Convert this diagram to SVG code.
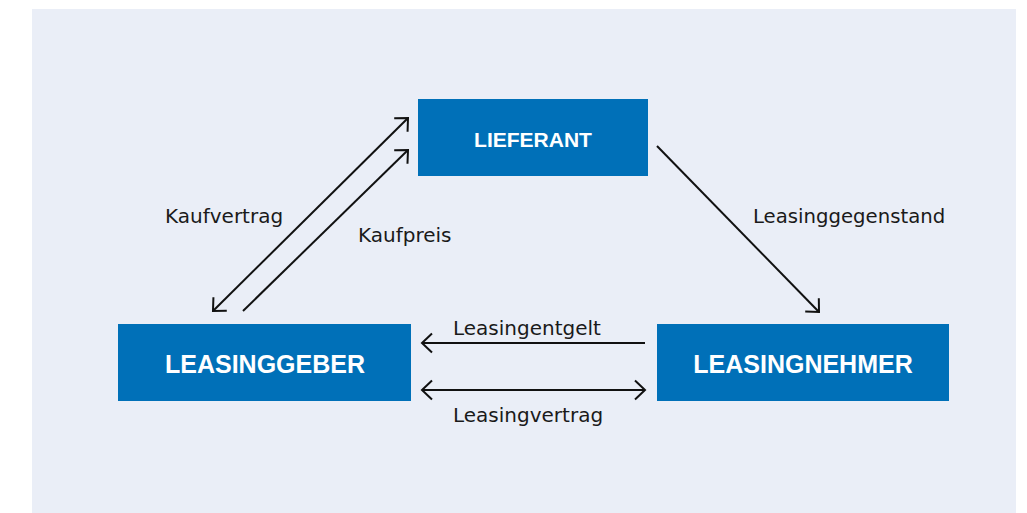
<svg xmlns="http://www.w3.org/2000/svg" width="1027" height="513" viewBox="0 0 1027 513">
  <style>
    .box { fill: #0070b8; }
    .boxlabel { font-family: "Liberation Sans", Arial, sans-serif; font-weight: bold; fill: #ffffff; text-anchor: middle; }
    .lbl { font-family: "DejaVu Sans", sans-serif; font-size: 20px; fill: #1a1a1a; }
    .conn { stroke: #111111; stroke-width: 2; fill: none; }
  </style>
  <defs>
    <marker id="arr" markerUnits="userSpaceOnUse" markerWidth="30" markerHeight="30" viewBox="-15 -15 30 30" refX="0" refY="0" orient="auto-start-reverse">
      <path d="M -10,-9.5 L 0,0 L -10,9.5" fill="none" stroke="#111111" stroke-width="2"/>
    </marker>
  </defs>
  <rect x="32" y="9" width="984" height="504" fill="#eaeef7"/>

  <g id="lieferant">
    <rect class="box" x="418" y="99" width="230" height="77"/>
    <text class="boxlabel" x="533" y="147" font-size="21">LIEFERANT</text>
  </g>
  <g id="leasinggeber">
    <rect class="box" x="118" y="324" width="293" height="77"/>
    <text class="boxlabel" x="265" y="373" font-size="25">LEASINGGEBER</text>
  </g>
  <g id="leasingnehmer">
    <rect class="box" x="657" y="324" width="292" height="77"/>
    <text class="boxlabel" x="803" y="373" font-size="25">LEASINGNEHMER</text>
  </g>

  <g id="connectors">
    <line class="conn" x1="213" y1="311" x2="408" y2="118" marker-start="url(#arr)" marker-end="url(#arr)"/>
    <line class="conn" x1="243" y1="311" x2="408" y2="150" marker-end="url(#arr)"/>
    <line class="conn" x1="657" y1="146" x2="819" y2="312" marker-end="url(#arr)"/>
    <line class="conn" x1="645" y1="343" x2="422" y2="343" marker-end="url(#arr)"/>
    <line class="conn" x1="422" y1="390" x2="645" y2="390" marker-start="url(#arr)" marker-end="url(#arr)"/>
    <text class="lbl" x="165" y="223">Kaufvertrag</text>
    <text class="lbl" x="358" y="242">Kaufpreis</text>
    <text class="lbl" x="753" y="223" style="font-size:19.7px">Leasinggegenstand</text>
    <text class="lbl" x="453" y="335">Leasingentgelt</text>
    <text class="lbl" x="453" y="422">Leasingvertrag</text>
  </g>
</svg>
